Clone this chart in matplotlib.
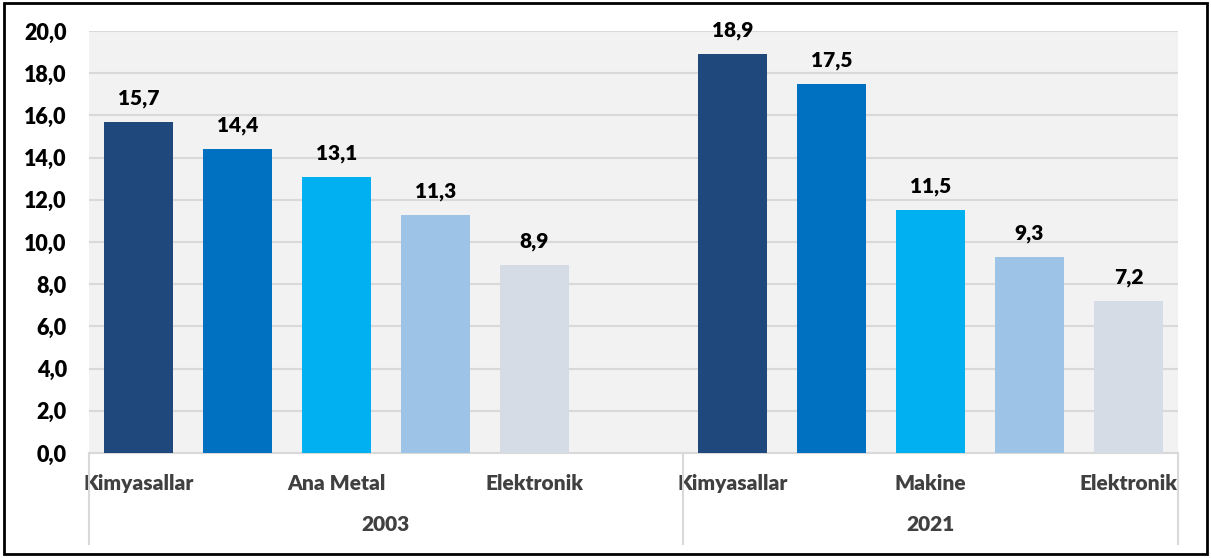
import matplotlib.pyplot as plt
from matplotlib.patches import Rectangle
from matplotlib.ticker import FuncFormatter

# --- data ---
years = ["2003", "2021"]
values_2003 = [15.7, 14.4, 13.1, 11.3, 8.9]
values_2021 = [18.9, 17.5, 11.5, 9.3, 7.2]
# only every other category name is shown on the chart
labels_2003 = ["Kimyasallar", "", "Ana Metal", "", "Elektronik"]
labels_2021 = ["Kimyasallar", "", "Makine", "", "Elektronik"]
colors = ["#1F497D", "#0070C0", "#00B0F0", "#9DC3E6", "#D6DCE5"]
yticks = [0, 2, 4, 6, 8, 10, 12, 14, 16, 18, 20]

plt.rcParams['font.family'] = ['Lato', 'DejaVu Sans']
W = "heavy"

fig = plt.figure(figsize=(12.11, 5.58), dpi=100)
ax = fig.add_axes([89 / 1211, 105 / 558, 1089 / 1211, 422 / 558])
ax.set_facecolor("#F2F2F2")

# positions: 5 bars, one empty slot, 5 bars
x1 = list(range(len(values_2003)))
x2 = [i + len(values_2003) + 1 for i in range(len(values_2021))]

for xs, vals in [(x1, values_2003), (x2, values_2021)]:
    bars = ax.bar(xs, vals, width=0.7, color=colors, zorder=3)
    for b, v in zip(bars, vals):
        ax.annotate(f"{v:.1f}".replace(".", ","),
                    (b.get_x() + b.get_width() / 2, v),
                    xytext=(0, 10), textcoords="offset points",
                    ha="center", va="bottom", fontsize=15, fontweight=W,
                    color="black")

ax.set_xlim(-0.5, x2[-1] + 0.5)
ax.set_ylim(0, 20)
ax.set_yticks(yticks)
ax.yaxis.set_major_formatter(FuncFormatter(lambda v, p: f"{v:.1f}".replace(".", ",")))
ax.tick_params(axis="y", length=0, pad=16, labelsize=15.5)
for lab in ax.get_yticklabels():
    lab.set_fontweight(W)

ax.set_xticks(x1 + x2)
ax.set_xticklabels(labels_2003 + labels_2021, fontsize=15, fontweight=W,
                   color="#404040")
ax.tick_params(axis="x", length=0, pad=15)

ax.grid(axis="y", color="#D9D9D9", linewidth=1.5, zorder=0)
for s in ["left", "right", "top"]:
    ax.spines[s].set_visible(False)
ax.spines["bottom"].set_color("#D9D9D9")
ax.spines["bottom"].set_linewidth(1.5)

# group separators and year labels (2003 group spans the empty slot too)
trans = ax.get_xaxis_transform()
edges = [-0.5, len(values_2003) + 0.5, x2[-1] + 0.5]
for xv in edges:
    ax.plot([xv, xv], [0, -0.215], transform=trans, color="#D9D9D9",
            linewidth=1.5, clip_on=False)
for i, yr in enumerate(years):
    ax.text((edges[i] + edges[i + 1]) / 2, -0.17, yr, transform=trans, ha="center",
            va="center", fontsize=15, fontweight=W, color="#404040")

# outer frame
fig.patches.append(Rectangle((0.003, 0.008), 0.994, 0.986, transform=fig.transFigure,
                             fill=False, edgecolor="black", linewidth=2))

fig.savefig("out.png", dpi=100)
